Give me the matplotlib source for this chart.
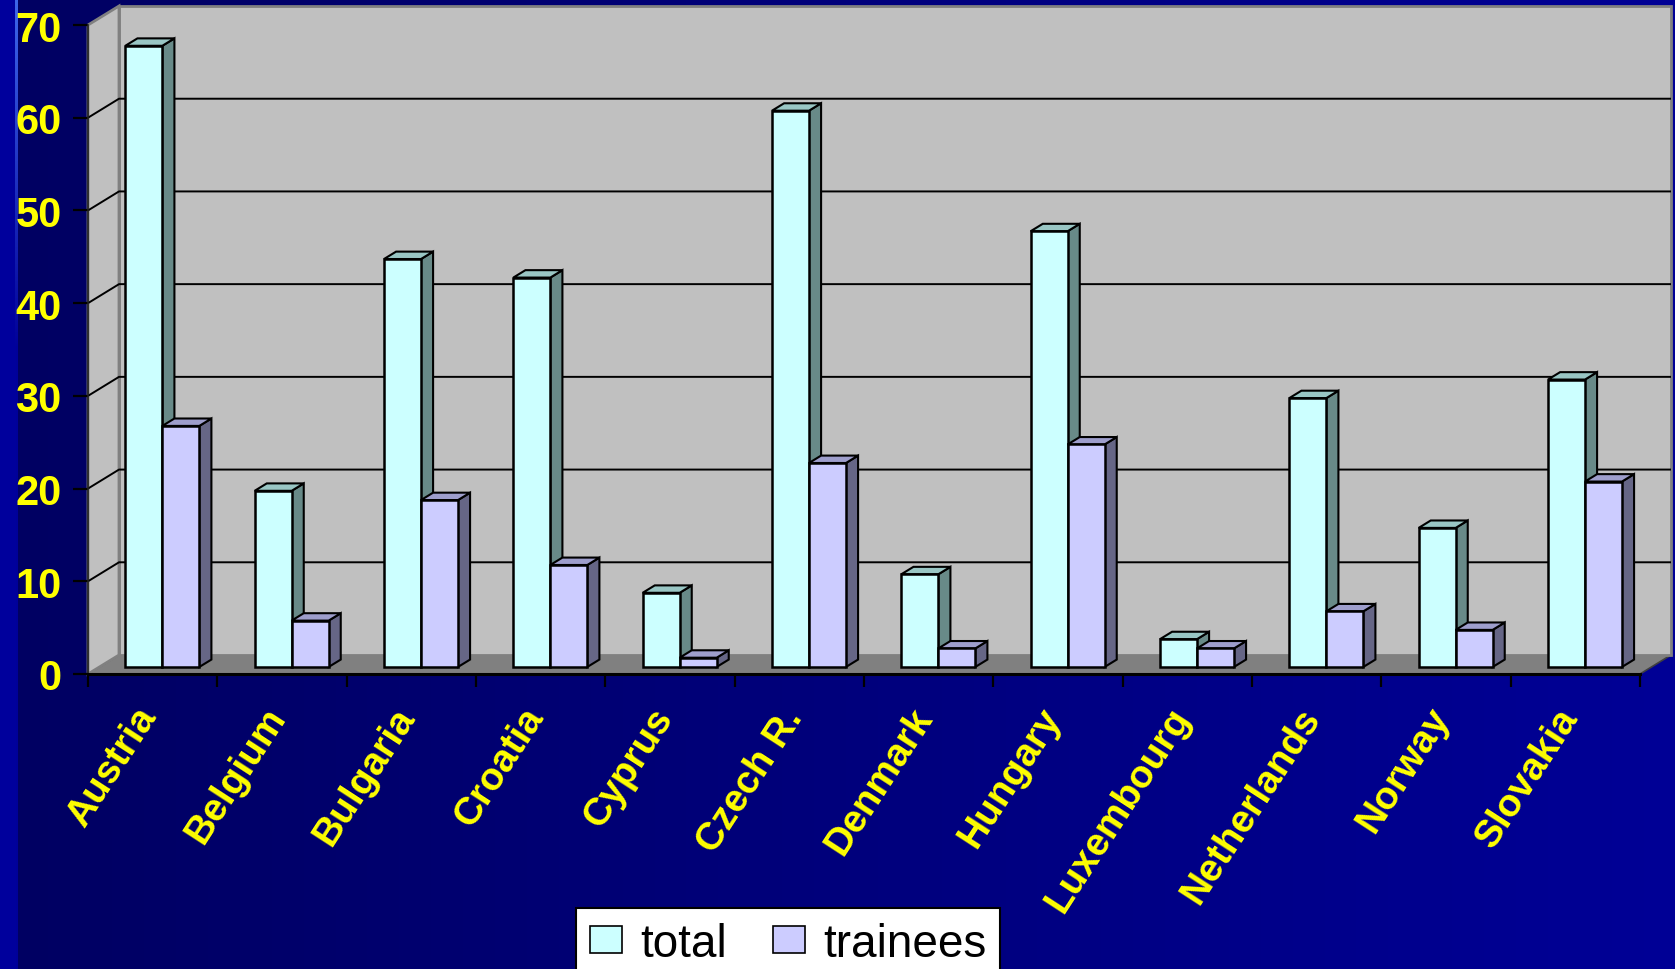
import numpy as np
import matplotlib
matplotlib.use("Agg")
import matplotlib.pyplot as plt
from matplotlib.patches import Polygon, Rectangle, Patch
from matplotlib.transforms import offset_copy

# ---------------- data ----------------
countries = ["Austria", "Belgium", "Bulgaria", "Croatia", "Cyprus", "Czech R.",
             "Denmark", "Hungary", "Luxembourg", "Netherlands", "Norway", "Slovakia"]
total = [67, 19, 44, 42, 8, 60, 10, 47, 3, 29, 15, 31]
trainees = [26, 5, 18, 11, 1, 22, 2, 24, 2, 6, 4, 20]
series_names = ["total", "trainees"]
yticks = [0, 10, 20, 30, 40, 50, 60, 70]

# ---------------- styling ----------------
FW, FH = 1675, 970
fig = plt.figure(figsize=(FW / 100, FH / 100), dpi=100)
plt.rcParams['font.family'] = ['Liberation Sans', 'DejaVu Sans']

# background gradient
bg = fig.add_axes([0, 0, 1, 1], zorder=-10)
cols = np.arange(FW)
blue = np.where(cols < 16, 0x9C, 0x62 + (0x96 - 0x62) * (cols - 16) / (FW - 16))
img = np.zeros((FH, FW, 3))
img[:, :, 2] = blue[None, :] / 255.0
# faint light vertical line near left edge at top
line_alpha = np.clip(1 - np.arange(FH) / 350.0, 0, 1) * 0.8
for c in (15, 16, 17):
    img[:, c, 0] = np.maximum(img[:, c, 0], 0.30 * line_alpha)
    img[:, c, 1] = np.maximum(img[:, c, 1], 0.50 * line_alpha)
    img[:, c, 2] = np.maximum(img[:, c, 2], 0.6 + 0.4 * line_alpha)
bg.imshow(img, aspect='auto', extent=[0, FW, FH, 0], interpolation='nearest')
bg.set_axis_off()

# front plane of the 3D chart (pixel geometry)
x0p, x1p, y0p, y1p = 88, 1640, 675, 26
ax = fig.add_axes([x0p / FW, 1 - y0p / FH, (x1p - x0p) / FW, (y0p - y1p) / FH])
ncat = len(countries)
ax.set_xlim(0, ncat)
ax.set_ylim(0, 70)
ax.patch.set_visible(False)

ppx = (x1p - x0p) / ncat      # pixels per category
ppy = (y0p - y1p) / 70.0      # pixels per unit
DX = 31 / ppx                 # depth offset in data units
DY = 19 / ppy

wall_c = '#C0C0C0'
floor_c = '#808080'
edge_gray = '#808080'

# floor
ax.add_patch(Polygon([(0, 0), (ncat, 0), (ncat + DX, DY), (DX, DY)], closed=True,
                     facecolor=floor_c, edgecolor='#404040', lw=1.2, zorder=1, clip_on=False))
# back wall
ax.add_patch(Rectangle((DX, DY), ncat, 70, facecolor=wall_c, edgecolor=edge_gray,
                       lw=2, zorder=1, clip_on=False))
# left wall
ax.add_patch(Polygon([(0, 0), (DX, DY), (DX, 70 + DY), (0, 70)], closed=True,
                     facecolor=wall_c, edgecolor=edge_gray, lw=2, zorder=1.1, clip_on=False))
# gridlines
for v in yticks[1:-1]:
    ax.plot([0, DX, ncat + DX], [v, v + DY, v + DY], color='black', lw=1.4,
            zorder=2, clip_on=False, solid_capstyle='butt')

# bars
f_front, f_back = 0.37, 0.76
bw = 0.286
bx0 = 0.2
b0 = f_front * DY
bdx = (f_back - f_front) * DX
bdy = (f_back - f_front) * DY

styles = [
    dict(front='#CCFFFF', side='#688A88', top='#99C6C4'),
    dict(front='#CCCCFF', side='#666686', top='#9E9ECC'),
]

for s, vals in enumerate([total, trainees]):
    st = styles[s]
    xs = [i + bx0 + s * bw + f_front * DX for i in range(ncat)]
    z = 3 + s
    for xl, v in zip(xs, vals):
        xr = xl + bw
        ax.add_patch(Polygon([(xr, b0), (xr + bdx, b0 + bdy), (xr + bdx, b0 + v + bdy), (xr, b0 + v)],
                             closed=True, facecolor=st['side'], edgecolor='black', lw=1.5,
                             zorder=z, joinstyle='miter'))
        ax.add_patch(Polygon([(xl, b0 + v), (xr, b0 + v), (xr + bdx, b0 + v + bdy), (xl + bdx, b0 + v + bdy)],
                             closed=True, facecolor=st['top'], edgecolor='black', lw=1.5,
                             zorder=z, joinstyle='miter'))
    ax.bar(xs, vals, width=bw, bottom=b0, align='edge', color=st['front'],
           edgecolor='black', linewidth=1.8, zorder=z + 0.5)

# axes lines / ticks
for sp in ('top', 'right'):
    ax.spines[sp].set_visible(False)
ax.spines['left'].set_color('#202020')
ax.spines['left'].set_linewidth(1.2)
ax.spines['bottom'].set_color('black')
ax.spines['bottom'].set_linewidth(2.2)
ax.spines['bottom'].set_zorder(6)

ax.set_yticks(yticks)
ax.set_yticklabels([str(v) for v in yticks])
ax.tick_params(axis='y', direction='out', length=11, width=1.6, color='black',
               labelcolor='#FFFF00', labelsize=30, pad=8)
for t in ax.get_yticklabels():
    t.set_fontweight('bold')

ax.set_xticks(range(ncat + 1))
ax.set_xticklabels([''] * (ncat + 1))
ax.tick_params(axis='x', direction='out', length=9, width=1.6, color='black')

lab_tr = offset_copy(ax.transData, fig=fig, x=4, y=-42, units='dots')
for i, name in enumerate(countries):
    ax.text(i + 0.5, 0, name, transform=lab_tr, rotation=57, rotation_mode='anchor',
            ha='right', va='baseline', color='#FFFF00', fontsize=28, fontweight='bold')

# legend
handles = [Patch(facecolor=styles[0]['front'], edgecolor='black', lw=1.2),
           Patch(facecolor=styles[1]['front'], edgecolor='black', lw=1.2)]
leg = fig.legend(handles, series_names, loc='upper center', ncol=2,
                 bbox_to_anchor=(788 / FW, 1 - 909 / FH), fontsize=33, frameon=True,
                 fancybox=False, edgecolor='black', facecolor='white', framealpha=1,
                 handlelength=0.7, handleheight=0.55, handletextpad=0.4,
                 columnspacing=1.0, borderpad=0.3, borderaxespad=0)
leg.get_frame().set_linewidth(1.5)

fig.savefig('out.png', dpi=100, facecolor=fig.get_facecolor())
